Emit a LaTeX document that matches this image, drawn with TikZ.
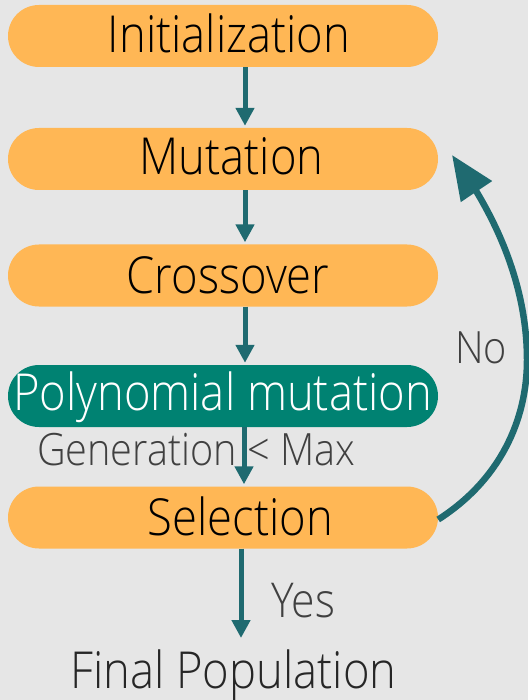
\documentclass[tikz,border=0pt]{standalone}
\usepackage{fontspec}
\setmainfont{Open Sans}[UprightFont=* Light, FakeStretch=0.89]
\usetikzlibrary{arrows.meta,bending}
\definecolor{bgcol}{HTML}{E6E6E6}
\definecolor{stepfill}{HTML}{FFB755}
\definecolor{polyfill}{HTML}{008272}
\definecolor{flowcol}{HTML}{1F6A70}
\definecolor{labelcol}{HTML}{404040}
\begin{document}
\begin{tikzpicture}[x=1pt,y=-1pt,
  stepbox/.style={fill=stepfill, rounded corners=31pt, minimum width=430pt,
    minimum height=62pt, inner sep=0pt},
  polybox/.style={stepbox, fill=polyfill},
  steptext/.style={anchor=base, inner sep=0pt, font=\fontsize{51}{60}\selectfont},
  polytext/.style={steptext, text=white},
  labeltext/.style={anchor=base, inner sep=0pt, text=labelcol, font=\fontsize{44.5}{52}\selectfont},
  flow/.style={draw=flowcol, line width=5pt, shorten >=2pt,
    -{Triangle[length=18pt,width=18pt]}},
  loopflow/.style={draw=flowcol, line width=6.5pt,
    -{Triangle[length=44pt,width=36pt]}}]
  % canvas
  \fill[bgcol] (0,0) rectangle (528,700);
  \useasboundingbox (0,0) rectangle (528,700);

  % process steps
  \node[stepbox] (init) at (223,36) {};
  \node[steptext] (initT) at (229,53) {Initialization};
  \node[stepbox] (mut) at (223,159) {};
  \node[steptext] (mutT) at (231.5,175) {Mutation};
  \node[stepbox] (cross) at (223,275.5) {};
  \node[steptext] (crossT) at (228,293) {Crossover};
  \node[polybox] (poly) at (223,396) {};
  \node[polytext] (polyT) at (222.5,410) {Polynomial mutation};
  \node[stepbox] (sel) at (223,517.5) {};
  \node[steptext] (selT) at (240.5,535) {Selection};
  \node[steptext, text=black!85] (final) at (233.5,688) {Final Population};

  % branch labels
  \node[labeltext] (gen) at (196,465) {Generation < Max};
  \node[labeltext, font=\fontsize{48}{56}\selectfont] (yes) at (303,617) {Yes};
  \node[labeltext] (no) at (481,363) {No};

  % main flow
  \draw[flow] ([xshift=22pt]init.south) -- ([xshift=22pt]mut.north);
  \draw[flow] ([xshift=22pt]mut.south) -- ([xshift=22pt]cross.north);
  \draw[flow] ([xshift=22pt]cross.south) -- ([xshift=22pt]poly.north);
  \draw[flow] ([xshift=21pt]poly.south) -- ([xshift=21pt]sel.north);
  \draw[flow, shorten >=0pt] ([xshift=18pt]sel.south) -- (241,638);

  % loop back to mutation
  \coordinate (loopend) at (452,155);
  \draw[loopflow] ([yshift=-2pt]sel.east) .. controls (500,480) and (527,420) .. (527,360)
    .. controls (527,290) and (500,220) .. (loopend);
\end{tikzpicture}
\end{document}
